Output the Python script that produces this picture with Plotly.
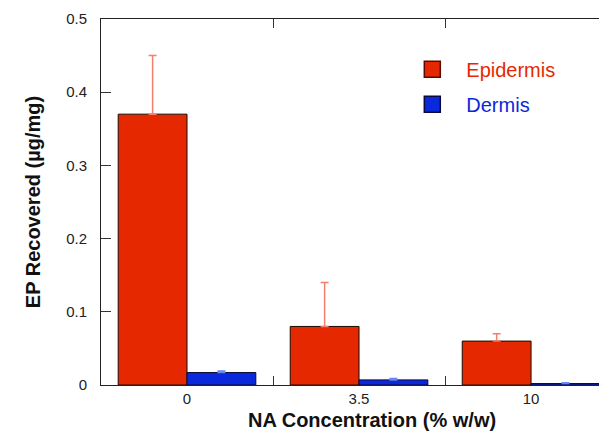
import plotly.graph_objects as go

categories = ["0", "3.5", "10"]
epidermis = [0.37, 0.08, 0.06]
epidermis_err = [0.08, 0.06, 0.01]
dermis = [0.017, 0.007, 0.002]
dermis_err = [0.002, 0.002, 0.001]
y_ticks = [0, 0.1, 0.2, 0.3, 0.4, 0.5]
y_ticklabels = ["0", "0.1", "0.2", "0.3", "0.4", "0.5"]

RED = "#E62800"
BLUE = "#0A28DC"
FONT = "Liberation Sans, Arial, sans-serif"

fig = go.Figure()
fig.add_trace(go.Bar(
    x=categories, y=epidermis, name="Epidermis", showlegend=False,
    marker=dict(color=RED, line=dict(color="#1a0a00", width=1)),
    error_y=dict(type="data", array=epidermis_err, symmetric=False,
                 arrayminus=[0, 0, 0], color="#F4806A", thickness=1.5, width=4),
))
fig.add_trace(go.Bar(
    x=categories, y=dermis, name="Dermis", showlegend=False,
    marker=dict(color=BLUE, line=dict(color="#0a0a30", width=1)),
    error_y=dict(type="data", array=dermis_err, symmetric=False,
                 arrayminus=[0, 0, 0], color="#6A86F0", thickness=1.5, width=4),
))
# legend entries (square swatches)
fig.add_trace(go.Scatter(
    x=[None], y=[None], mode="markers", legendgroup="a",
    name='<span style="color:%s">Epidermis</span>' % RED,
    marker=dict(symbol="square", size=18, color=RED, line=dict(color="#5a0a00", width=1.5)),
))
fig.add_trace(go.Scatter(
    x=[None], y=[None], mode="markers", legendgroup="b",
    name='<span style="color:%s">Dermis</span>' % BLUE,
    marker=dict(symbol="square", size=18, color=BLUE, line=dict(color="#0a0a40", width=1.5)),
))

fig.update_layout(
    width=599, height=435,
    margin=dict(l=101, r=0, t=19, b=50),
    paper_bgcolor="white", plot_bgcolor="white",
    barmode="group", bargap=0.2, bargroupgap=0,
    font=dict(family=FONT, size=15, color="#222"),
    showlegend=True,
    legend=dict(x=0.597, y=0.916, xanchor="left", yanchor="top",
                font=dict(size=20, family=FONT), traceorder="grouped",
                tracegroupgap=6, bgcolor="rgba(0,0,0,0)", itemwidth=58),
    xaxis=dict(type="category", range=[-0.5, 2.395], tickson="boundaries",
               ticks="inside", ticklen=9, tickcolor="#333",
               showline=True, linecolor="#222", linewidth=1, mirror="ticks",
               showgrid=False, tickfont=dict(size=15, family=FONT)),
    yaxis=dict(range=[0, 0.5], tickvals=y_ticks, ticktext=y_ticklabels,
               ticks="inside", ticklen=10, tickcolor="#333",
               showline=True, linecolor="#222", linewidth=1,
               showgrid=False, zeroline=False, tickfont=dict(size=15, family=FONT),
               ticklabelstandoff=10,
               title=dict(text="<b>EP Recovered (µg/mg)</b>",
                          font=dict(size=20, family=FONT, color="#111"), standoff=20)),
    annotations=[dict(text="<b>NA Concentration (% w/w)</b>", xref="paper", yref="paper",
                      x=0.544, y=-0.0956, xanchor="center", yanchor="middle",
                      showarrow=False, font=dict(size=20, family=FONT, color="#111"))],
)

fig.write_html("out.html", config={"displayModeBar": False},
               post_script="document.body.style.margin='0';document.body.style.overflow='hidden';")
